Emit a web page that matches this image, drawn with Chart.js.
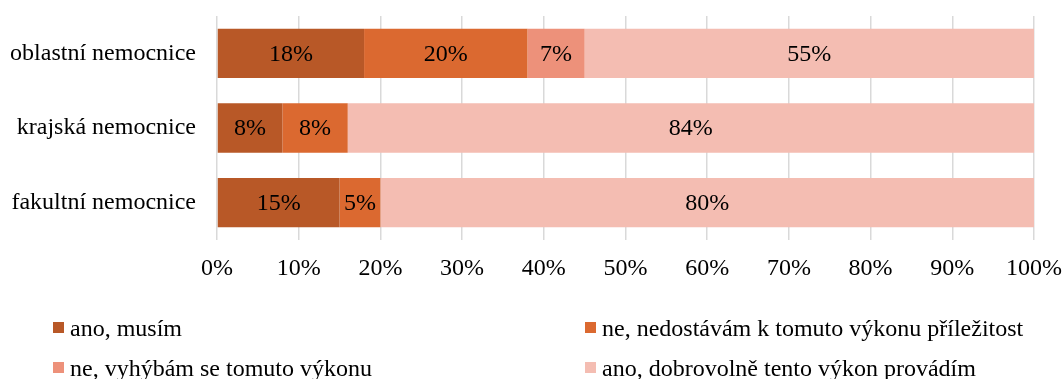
<!DOCTYPE html>
<html lang="cs">
<head>
<meta charset="utf-8">
<script src="https://cdn.jsdelivr.net/npm/chart.js@4/dist/chart.umd.min.js"></script>
<style>
  html, body { margin: 0; padding: 0; background: #fff; }
  #wrap { position: relative; width: 1064px; height: 379px; overflow: hidden; }
  #chart { display: block; }
  .legend-item {
    position: absolute;
    font-family: 'Liberation Serif', 'Times New Roman', serif;
    font-size: 24px;
    color: #000;
    white-space: nowrap;
    line-height: 1;
  }
  .legend-item span.box {
    position: absolute;
    left: -17px;
    top: 6px;
    width: 11px;
    height: 11px;
  }
</style>
</head>
<body>
<div id="wrap">
  <canvas id="chart" width="1064" height="379"></canvas>
</div>
<script>
// Categories and series (percent of respondents)
const hospitals = ['oblastní nemocnice', 'krajská nemocnice', 'fakultní nemocnice'];
const seriesNames = [
    'ano, musím',
    'ne, nedostávám k tomuto výkonu příležitost',
    'ne, vyhýbám se tomuto výkonu',
    'ano, dobrovolně tento výkon provádím'
];
const mustDo = [18, 8, 15];
const noChance = [20, 8, 5];
const avoid = [7, 0, 0];
const voluntary = [55, 84, 80];
const seriesColors = ['#b85827', '#db6930', '#ed917a', '#f4bdb2'];
const tickValues = [0, 10, 20, 30, 40, 50, 60, 70, 80, 90, 100];

const serif = "'Liberation Serif', 'Times New Roman', serif";

// Legend slots: two columns, two rows
const legendSlots = [
    { left: 70, top: 316 },
    { left: 602, top: 316 },
    { left: 70, top: 356 },
    { left: 602, top: 356 }
];

const wrap = document.getElementById('wrap');
seriesNames.forEach((name, i) => {
    const item = document.createElement('div');
    item.className = 'legend-item';
    item.style.left = legendSlots[i].left + 'px';
    item.style.top = legendSlots[i].top + 'px';
    const box = document.createElement('span');
    box.className = 'box';
    box.style.background = seriesColors[i];
    item.appendChild(box);
    item.appendChild(document.createTextNode(name));
    wrap.appendChild(item);
});

// Write the percentage into each non-empty segment
const segmentLabels = {
    id: 'segmentLabels',
    afterDatasetsDraw(chart) {
        const ctx = chart.ctx;
        ctx.save();
        ctx.font = '24px ' + serif;
        ctx.fillStyle = '#000';
        ctx.textAlign = 'center';
        ctx.textBaseline = 'middle';
        chart.data.datasets.forEach((ds, di) => {
            const meta = chart.getDatasetMeta(di);
            meta.data.forEach((bar, i) => {
                const v = ds.data[i];
                if (!v) return;
                const x = (bar.x + bar.base) / 2;
                ctx.fillText(v + '%', x, bar.y + 1);
            });
        });
        ctx.restore();
    }
};

const allSeries = [mustDo, noChance, avoid, voluntary];

// Drop the automatic label overhang so the plot area is set by layout padding alone
function noOverhang(scale) {
    scale.paddingTop = 0;
    scale.paddingBottom = 0;
    scale.paddingLeft = 0;
    scale.paddingRight = 0;
}

new Chart(document.getElementById('chart'), {
    type: 'bar',
    data: {
        labels: hospitals,
        datasets: allSeries.map((values, i) => ({
            label: seriesNames[i],
            data: values,
            backgroundColor: seriesColors[i],
            borderWidth: 0,
            categoryPercentage: 1,
            barPercentage: 0.66
        }))
    },
    options: {
        indexAxis: 'y',
        responsive: false,
        animation: false,
        layout: { padding: { top: 16, right: 30, left: 0, bottom: 0 } },
        plugins: {
            legend: { display: false },
            tooltip: { enabled: false }
        },
        scales: {
            x: {
                stacked: true,
                min: 0,
                max: 100,
                afterBuildTicks(scale) {
                    scale.ticks = tickValues.map(v => ({ value: v }));
                },
                afterFit(scale) {
                    scale.height = 139;
                    noOverhang(scale);
                },
                grid: { color: '#d9d9d9', lineWidth: 1.5, drawTicks: false },
                border: { display: false },
                ticks: {
                    padding: 14,
                    color: '#000',
                    maxRotation: 0,
                    font: { family: serif, size: 24 },
                    callback: v => v + '%'
                }
            },
            y: {
                stacked: true,
                afterFit(scale) {
                    scale.width = 217;
                    noOverhang(scale);
                },
                grid: { display: false, drawTicks: false },
                border: { display: false },
                ticks: {
                    padding: 21,
                    color: '#000',
                    font: { family: serif, size: 24 }
                }
            }
        }
    },
    plugins: [segmentLabels]
});
</script>
</body>
</html>
